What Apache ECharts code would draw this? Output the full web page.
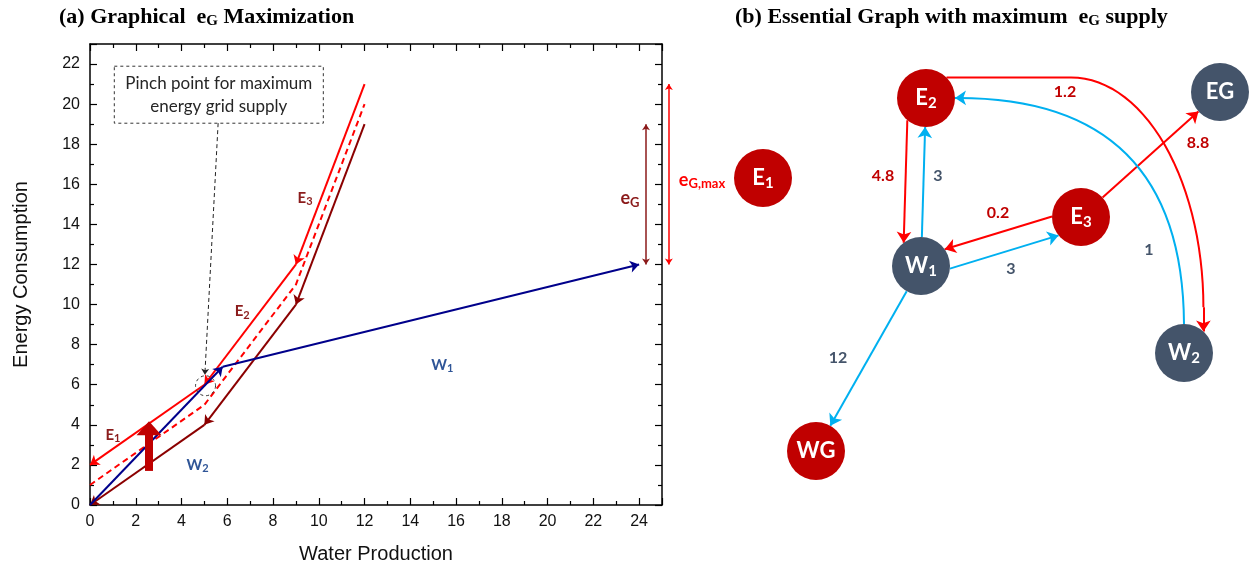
<!DOCTYPE html>
<html><head><meta charset="utf-8">
<script src="https://cdn.jsdelivr.net/npm/echarts@6/dist/echarts.min.js"></script>
<style>html,body{margin:0;padding:0;background:#fff}#c{width:1250px;height:569px}</style>
</head><body><div id="c"></div>
<script>
// ---------- Panel (a) data ----------
const eWater    = [0, 5, 9, 12];       // composite E curve breakpoints (water)
const eCurve    = [0, 4, 10, 19];      // energy composite (e_G)
const eCurveMid = [1, 5, 11, 20];      // intermediate shift (dashed)
const eCurveMax = [2, 6, 12, 21];      // shifted to pinch (e_G,max)
const wWater    = [0, 5.8, 24];        // W composite breakpoints (water)
const wCurve    = [0, 6.9, 12];        // W composite (energy)
const eGSpan    = [12, 19];
const eGMaxSpan = [12, 21];
const eGAtX     = 24.3;
const eGMaxAtX  = 25.3;
const pinchPoint = [5.05, 5.95];
const pinchLeader = [[5.6, 19.05], [5.02, 6.5]];
const pinchText = 'Pinch point for maximum\nenergy grid supply';
const pinchTextAt = [5.63, 20.47];
const liftX = 2.58, liftFrom = 1.7, liftTo = 3.55, liftHeadAt = 3.83;
const curveLabels = ['E|1', 'E|2', 'E|3', 'W|1', 'W|2'];
const curveLabelX = [1.0, 6.65, 9.4, 15.4, 4.7];
const curveLabelY = [3.5, 9.65, 15.3, 7.0, 2.0];
const eGLabelAt = [23.6, 15.3];
const eGMaxLabelAt = [26.75, 16.2];

// ---------- Panel (b) data ----------
const nodeNames = ['E1', 'E2', 'EG', 'E3', 'W1', 'W2', 'WG'];
const nodeGroup = ['r', 'r', 'g', 'r', 'g', 'g', 'r'];
const nodeX = [763, 926, 1220, 1081, 921, 1184, 816];
const nodeY = [178, 98, 92, 217, 266, 353, 451];
const edgeSource = ['E2', 'W1', 'E3', 'W1', 'E3', 'W1', 'W2', 'E2'];
const edgeTarget = ['W1', 'E2', 'W1', 'E3', 'EG', 'WG', 'E2', 'W2'];
const edgeFlow   = ['4.8', '3', '0.2', '3', '8.8', '12', '1', '1.2'];
const edgeOffset = [18, 0, 9, 11, 0, 0, 0, 0];
const edgeRoute  = ['s', 's', 's', 's', 's', 's', 'arc', 'corner'];
const edgeLabelX = [883, 938, 998, 1011, 1198, 838, 1149, 1065];
const edgeLabelY = [176, 176, 213, 269, 143, 358, 250, 92];

// ---------- styles ----------
const RED = '#FF0000', DARKRED = '#8B0000', NAVY = '#00008B', BIGRED = '#C00000';
const CYAN = '#00B0F0', SLATE = '#44546A';
const LBL_E = '#8B1C1C', LBL_W = '#2F5597';
const NODE_R = 29;

function subRich(color, size, subSize, weight, family) {
  return {
    b: {fontSize: size, fontWeight: weight, color: color, fontFamily: family},
    s: {fontSize: subSize, fontWeight: weight, color: color, fontFamily: family, padding: [Math.round(size*0.45), 0, 0, 0]}
  };
}
function subText(t) { const p = t.split('|'); return '{b|' + p[0] + '}' + (p[1] ? '{s|' + p[1] + '}' : ''); }

function segs(xs, ys, reverse) {
  const out = [];
  if (reverse) { for (let i = xs.length - 1; i > 0; i--) out.push({coords: [[xs[i], ys[i]], [xs[i-1], ys[i-1]]]}); }
  else { for (let i = 0; i < xs.length - 1; i++) out.push({coords: [[xs[i], ys[i]], [xs[i+1], ys[i+1]]]}); }
  return out;
}

// ---------- panel (b) geometry ----------
function pos(n) { const i = nodeNames.indexOf(n); return [nodeX[i], nodeY[i]]; }
function straightEdge(a, b, d) {
  const dx = b[0]-a[0], dy = b[1]-a[1], L = Math.hypot(dx, dy);
  const ux = dx/L, uy = dy/L, nx = -uy, ny = ux;
  const s = Math.sqrt(NODE_R*NODE_R - d*d);
  return [[a[0]+nx*d+ux*s, a[1]+ny*d+uy*s], [b[0]+nx*d-ux*s, b[1]+ny*d-uy*s]];
}
const arrowEdges = [], polyEdges = [];
for (let i = 0; i < edgeSource.length; i++) {
  const a = pos(edgeSource[i]), b = pos(edgeTarget[i]);
  const col = nodeGroup[nodeNames.indexOf(edgeSource[i])] === 'r' ? RED : CYAN;
  if (edgeRoute[i] === 's') {
    arrowEdges.push({coords: straightEdge(a, b, edgeOffset[i]), lineStyle: {color: col}});
  } else if (edgeRoute[i] === 'arc') {
    const st = [a[0], a[1]-NODE_R], en = [b[0]+NODE_R, b[1]];
    arrowEdges.push({coords: [st, en], lineStyle: {color: col, curveness: -0.5}});
  } else {
    const r0 = -Math.PI/4, r1 = -48*Math.PI/180;
    const st = [a[0]+NODE_R*Math.cos(r0), a[1]+NODE_R*Math.sin(r0)];
    const en = [b[0]+NODE_R*Math.cos(r1), b[1]+NODE_R*Math.sin(r1)];
    const xh = st[0] + 0.485*(en[0]-st[0]), ax = en[0]-xh, by = 0.905*(en[1]-st[1]), yc = st[1]+by;
    const pts = [st];
    for (let k = 0; k <= 30; k++) { const t = -Math.PI/2 + (Math.PI/2)*k/30; pts.push([xh + ax*Math.cos(t), yc + by*Math.sin(t)]); }
    polyEdges.push({coords: pts, lineStyle: {color: col}});
    arrowEdges.push({coords: [[en[0], yc], en], lineStyle: {color: col}});
  }
}

const titleRich = {
  t: {fontFamily: 'Liberation Serif', fontWeight: 'bold', fontSize: 22, color: '#000'},
  s: {fontFamily: 'Liberation Serif', fontWeight: 'bold', fontSize: 15, color: '#000', padding: [9, 0, 0, 0]}
};

const axisCommon = {
  type: 'value', gridIndex: 0,
  axisLine: {show: true, onZero: false, lineStyle: {color: '#000', width: 1.5}},
  axisTick: {show: true, inside: true, length: 7, lineStyle: {color: '#000', width: 1.2}},
  minorTick: {show: true, splitNumber: 2, length: 4, lineStyle: {color: '#000', width: 1.2}},
  splitLine: {show: false}
};
const OPAQUE = {opacity: 1};

const option = {
  animation: false,
  backgroundColor: '#fff',
  title: [
    {text: '{t|(a) Graphical  e}{s|G}{t| Maximization}', left: 54, top: 0, textStyle: {rich: titleRich}},
    {text: '{t|(b) Essential Graph with maximum  e}{s|G}{t| supply}', left: 730, top: 0, textStyle: {rich: titleRich}}
  ],
  grid: [
    {left: 90, top: 44, width: 572, height: 462},
    {left: 700, top: 0, width: 550, height: 569}
  ],
  xAxis: [
    Object.assign({}, axisCommon, {min: 0, max: 25, interval: 2, position: 'bottom',
      axisLabel: {fontSize: 16, color: '#111', fontFamily: 'Liberation Sans', margin: 9, showMaxLabel: false},
      name: 'Water Production', nameLocation: 'middle', nameGap: 39,
      nameTextStyle: {fontSize: 20, fontFamily: 'Liberation Sans', color: '#111'}}),
    Object.assign({}, axisCommon, {min: 0, max: 25, interval: 2, position: 'top', axisLabel: {show: false}}),
    {type: 'value', gridIndex: 1, min: 700, max: 1250, show: false}
  ],
  yAxis: [
    Object.assign({}, axisCommon, {min: 0, max: 23, interval: 2, position: 'left',
      axisLabel: {fontSize: 16, color: '#111', fontFamily: 'Liberation Sans', margin: 10, showMaxLabel: false},
      name: 'Energy Consumption', nameLocation: 'middle', nameGap: 59,
      nameTextStyle: {fontSize: 20, fontFamily: 'Liberation Sans', color: '#111'}}),
    Object.assign({}, axisCommon, {min: 0, max: 23, interval: 2, position: 'right', axisLabel: {show: false}}),
    {type: 'value', gridIndex: 1, min: 0, max: 569, inverse: true, show: false}
  ],
  series: [
    // dashed intermediate curve
    {type: 'line', xAxisIndex: 0, yAxisIndex: 0, data: eWater.map((x, i) => [x, eCurveMid[i]]),
      showSymbol: false, symbol: 'none', lineStyle: {color: RED, width: 2, type: [6, 4]}, z: 3},
    // composite e curve (dark red)
    {type: 'lines', coordinateSystem: 'cartesian2d', xAxisIndex: 0, yAxisIndex: 0, clip: false,
      data: segs(eWater, eCurve, true), symbol: ['none', 'arrow'], symbolSize: 9,
      lineStyle: {color: DARKRED, width: 2, opacity: 1}, z: 3},
    // shifted e curve (red)
    {type: 'lines', coordinateSystem: 'cartesian2d', xAxisIndex: 0, yAxisIndex: 0, clip: false,
      data: segs(eWater, eCurveMax, true), symbol: ['none', 'arrow'], symbolSize: 9,
      lineStyle: {color: RED, width: 2, opacity: 1}, z: 3},
    // W composite (navy)
    {type: 'lines', coordinateSystem: 'cartesian2d', xAxisIndex: 0, yAxisIndex: 0, clip: false,
      data: segs(wWater, wCurve, false), symbol: ['none', 'arrow'], symbolSize: 9,
      lineStyle: {color: NAVY, width: 2, opacity: 1}, z: 4},
    // eG and eG,max double arrows
    {type: 'lines', coordinateSystem: 'cartesian2d', xAxisIndex: 0, yAxisIndex: 0, clip: false,
      symbol: ['arrow', 'arrow'], symbolSize: 6, lineStyle: {width: 1.5, opacity: 1},
      data: [
        {coords: [[eGAtX, eGSpan[0]], [eGAtX, eGSpan[1]]], lineStyle: {color: '#8B1A1A'}},
        {coords: [[eGMaxAtX, eGMaxSpan[0]], [eGMaxAtX, eGMaxSpan[1]]], lineStyle: {color: RED}}
      ], z: 4},
    // pinch leader
    {type: 'lines', coordinateSystem: 'cartesian2d', xAxisIndex: 0, yAxisIndex: 0, clip: false,
      symbol: ['none', 'arrow'], symbolSize: 6,
      data: [{coords: pinchLeader}], lineStyle: {color: '#222', width: 1, type: [4, 3], opacity: 1}, z: 4},
    // big lift arrow shaft
    {type: 'lines', coordinateSystem: 'cartesian2d', xAxisIndex: 0, yAxisIndex: 0,
      data: [{coords: [[liftX, liftFrom], [liftX, liftTo]]}], lineStyle: {color: BIGRED, width: 8, opacity: 1}, z: 5},
    // big lift arrow head, pinch circle, pinch text box
    {type: 'scatter', xAxisIndex: 0, yAxisIndex: 0, clip: false, z: 5, itemStyle: OPAQUE,
      data: [
        {value: [liftX, liftHeadAt], symbol: 'triangle', symbolSize: [25, 14], itemStyle: {color: BIGRED, opacity: 1}},
        {value: pinchPoint, symbol: 'circle', symbolSize: 20,
          itemStyle: {color: 'rgba(0,0,0,0)', opacity: 1, borderColor: '#333', borderWidth: 1, borderType: [3, 3]}},
        {value: pinchTextAt, symbol: 'circle', symbolSize: 1, itemStyle: {color: 'rgba(0,0,0,0)', opacity: 1},
          label: {show: true, position: 'inside', formatter: pinchText, fontFamily: 'Lato', fontSize: 17,
            lineHeight: 23, color: '#262626', align: 'center', padding: [6, 11, 5, 11],
            borderColor: '#333', borderWidth: 1, borderType: [3, 3]}}
      ]},
    // curve labels
    {type: 'scatter', xAxisIndex: 0, yAxisIndex: 0, clip: false, z: 6, symbolSize: 1,
      itemStyle: {color: 'rgba(0,0,0,0)', opacity: 1},
      data: curveLabels.map((t, i) => ({value: [curveLabelX[i], curveLabelY[i]],
        label: {show: true, position: 'inside', formatter: subText(t),
          rich: subRich(t[0] === 'E' ? LBL_E : LBL_W, 15, 11, 'bold', 'Lato')}}))
        .concat([
          {value: eGLabelAt, label: {show: true, position: 'inside', formatter: '{b|e}{s|G}', rich: subRich('#8B1A1A', 18, 13, 'bold', 'Lato')}},
          {value: eGMaxLabelAt, label: {show: true, position: 'inside', formatter: '{b|e}{s|G,max}', rich: subRich(RED, 18, 13, 'bold', 'Lato')}}
        ])},
    // ---- panel (b) ----
    {type: 'lines', coordinateSystem: 'cartesian2d', xAxisIndex: 2, yAxisIndex: 2, clip: false, polyline: true,
      data: polyEdges, lineStyle: {width: 2, opacity: 1}, z: 3},
    {type: 'lines', coordinateSystem: 'cartesian2d', xAxisIndex: 2, yAxisIndex: 2, clip: false,
      data: arrowEdges, symbol: ['none', 'arrow'], symbolSize: 11, lineStyle: {width: 2, opacity: 1}, z: 3},
    {type: 'scatter', xAxisIndex: 2, yAxisIndex: 2, clip: false, z: 5, symbolSize: NODE_R*2,
      data: nodeNames.map((n, i) => ({value: [nodeX[i], nodeY[i]],
        itemStyle: {color: nodeGroup[i] === 'r' ? BIGRED : SLATE, opacity: 1},
        label: {show: true, position: 'inside',
          formatter: n.length === 2 && /\d/.test(n[1]) ? '{b|' + n[0] + '}{s|' + n[1] + '}' : '{b|' + n + '}',
          rich: subRich('#fff', 22, 15, 'bold', 'Lato')}}))},
    {type: 'scatter', xAxisIndex: 2, yAxisIndex: 2, clip: false, z: 6, symbolSize: 1,
      itemStyle: {color: 'rgba(0,0,0,0)', opacity: 1},
      data: edgeFlow.map((v, i) => ({value: [edgeLabelX[i], edgeLabelY[i]],
        label: {show: true, position: 'inside', formatter: v, fontFamily: 'Lato', fontWeight: 'bold', fontSize: 16,
          color: nodeGroup[nodeNames.indexOf(edgeSource[i])] === 'r' ? BIGRED : SLATE}}))}
  ]
};
const chart = echarts.init(document.getElementById('c'));
chart.setOption(option);
</script></body></html>
